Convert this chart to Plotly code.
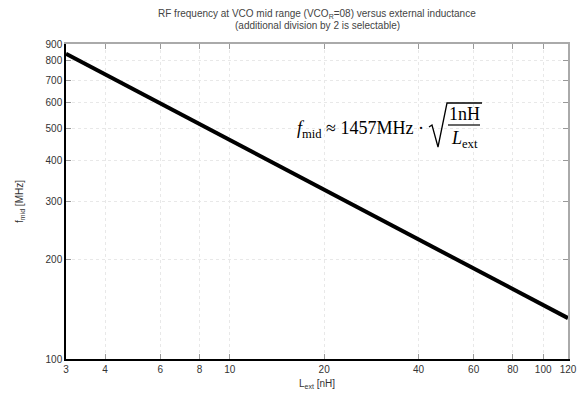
import plotly.graph_objects as go
import math

# Data
l_ext_nh = [3, 4, 6, 10, 20, 40, 60, 120]
f_mid_mhz = [841, 728, 595, 461, 326, 230, 188, 133]

x_ticks = [3, 4, 6, 8, 10, 20, 40, 60, 80, 100, 120]
x_ticklabels = ["3", "4", "6", "8", "10", "20", "40", "60", "80", "100", "120"]
y_ticks = [100, 200, 300, 400, 500, 600, 700, 800, 900]
y_ticklabels = ["100", "200", "300", "400", "500", "600", "700", "800", "900"]

W, H = 578, 396
# plot area in page pixels: x 66..568, y 44..359
L, R, T, B = 66, 10, 44, 37
PW, PH = W - L - R, H - T - B

def px(x):  # page pixel -> paper
    return (x - L) / PW

def py(y):
    return (H - B - y) / PH

fig = go.Figure()
fig.add_trace(go.Scatter(x=l_ext_nh, y=f_mid_mhz, mode="lines",
                         line=dict(color="black", width=4), showlegend=False))
fig.add_trace(go.Scatter(x=[x_ticks[0]], y=[y_ticks[0]], xaxis="x2", yaxis="y2",
                         mode="markers", marker=dict(opacity=0), showlegend=False,
                         hoverinfo="skip"))

xr = [math.log10(3), math.log10(120)]
yr = [math.log10(100), math.log10(900)]
tickfont = dict(family="Liberation Sans, Arial, sans-serif", size=10, color="#333")

fig.update_layout(
    width=W, height=H,
    margin=dict(l=L, r=R, t=T, b=B, autoexpand=False),
    paper_bgcolor="white", plot_bgcolor="white",
    xaxis=dict(
        type="log", range=xr, tickvals=x_ticks, ticktext=x_ticklabels,
        ticks="inside", ticklen=5, tickcolor="#999", tickfont=tickfont,
        showline=True, linecolor="black", linewidth=1.5, automargin=False,
        showgrid=True, gridcolor="#e8e8e8", griddash="dot", gridwidth=1,
        zeroline=False, title=dict(text="L<sub>ext</sub> [nH]", font=tickfont, standoff=6),
    ),
    yaxis=dict(
        type="log", range=yr, tickvals=y_ticks, ticktext=y_ticklabels,
        ticks="inside", ticklen=5, tickcolor="#999", tickfont=tickfont,
        showline=True, linecolor="black", linewidth=1.5, automargin=False,
        showgrid=True, gridcolor="#e8e8e8", griddash="dot", gridwidth=1,
        zeroline=False, title=dict(text="f<sub>mid</sub> [MHz]", font=tickfont, standoff=20),
    ),
    xaxis2=dict(
        type="log", range=xr, tickvals=x_ticks, overlaying="x", side="top",
        anchor="y", ticks="inside", ticklen=5, tickcolor="#999", showticklabels=False,
        showline=True, linecolor="#aaa", linewidth=1.5, showgrid=False, zeroline=False,
        automargin=False,
    ),
    yaxis2=dict(
        type="log", range=yr, tickvals=y_ticks, overlaying="y", side="right",
        anchor="x", ticks="inside", ticklen=5, tickcolor="#999", showticklabels=False,
        showline=True, linecolor="#aaa", linewidth=1.5, showgrid=False, zeroline=False,
        automargin=False,
    ),
)

sans = dict(family="Liberation Sans, Arial, sans-serif", size=10, color="#444")
serif = dict(family="Liberation Serif, Times New Roman, serif", size=18, color="black")
ann = [
    dict(text="RF frequency at VCO mid range (VCO<sub>R</sub>=08) versus external inductance",
         x=px(317), y=py(14), xanchor="center", yanchor="middle", font=sans),
    dict(text="(additional division by 2 is selectable)",
         x=px(317), y=py(26), xanchor="center", yanchor="middle", font=sans),
    dict(text="<i>f</i><sub>mid</sub> ≈ 1457MHz ·", x=px(426), y=py(129),
         xanchor="right", yanchor="middle", font=serif),
    dict(text="1nH", x=px(464), y=py(114), xanchor="center", yanchor="middle", font=serif),
    dict(text="<i>L</i><sub>ext</sub>", x=px(464), y=py(139), xanchor="center",
         yanchor="middle", font=serif),
]
for a in ann:
    a.update(xref="paper", yref="paper", showarrow=False)
fig.update_layout(annotations=ann)

rad = "M {} {} L {} {} L {} {} L {} {} L {} {}".format(
    px(429), py(127), px(432), py(125), px(438), py(147), px(447), py(103), px(482), py(103))
fig.add_shape(type="path", path=rad, xref="paper", yref="paper",
              line=dict(color="black", width=1.3))
fig.add_shape(type="line", x0=px(448), x1=px(480), y0=py(125), y1=py(125),
              xref="paper", yref="paper", line=dict(color="black", width=1.2))

fig.write_html("out.html", config={"displayModeBar": False},
               post_script="document.body.style.margin='0';document.body.style.overflow='hidden';")
